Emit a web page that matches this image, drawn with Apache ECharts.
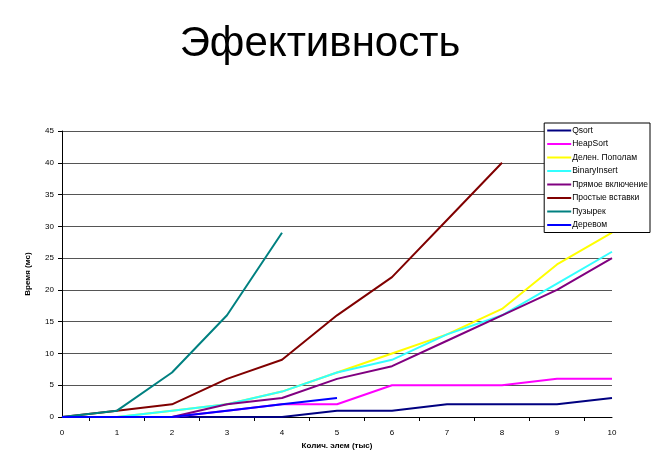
<!DOCTYPE html><html><head><meta charset="utf-8"><script src="https://cdn.jsdelivr.net/npm/echarts@6/dist/echarts.min.js"></script></head><body style="margin:0;background:#fff"><div id="c" style="width:666px;height:462px"></div><script>
const xs=[0,1,2,3,4,5,6,7,8,9,10];
const names=['Qsort','HeapSort','Делен. Пополам','BinaryInsert','Прямое включение','Простые вставки','Пузырек','Деревом'];
const colors=['#000080','#ff00ff','#ffff00','#33ffff','#800080','#800000','#008080','#0000ff'];
const qsort=[0,0,0,0,0,1,1,2,2,2,3];
const heap=[0,0,0,1,2,2,5,5,5,6,6];
const delen=[0,0,1,2,4,7,10,13,17,24,29];
const binary=[0,0,1,2,4,7,9,13,16,21,26];
const pryamoe=[0,0,0,2,3,6,8,12,16,20,25];
const prostye=[0,1,2,6,9,16,22,31,40];
const puzyrek=[0,1,7,16,29];
const derevom=[0,0,0,1,2,3];
const all=[qsort,heap,delen,binary,pryamoe,prostye,puzyrek,derevom];
const f='Liberation Sans';
echarts.init(document.getElementById('c')).setOption({
animation:false,
title:{text:'Эфективность',left:315,top:18,textAlign:'center',textStyle:{fontFamily:f,fontSize:42,fontWeight:'normal',color:'#000'}},
legend:{orient:'vertical',right:16,top:123,itemWidth:24,itemHeight:2,itemGap:4.5,icon:'rect',backgroundColor:'#fff',borderColor:'#000',borderWidth:1,padding:[3,2,3,3],textStyle:{fontFamily:f,fontSize:8.5,color:'#000',padding:[0,0,0,-4]},data:names},
grid:{left:62,right:54,top:131,bottom:45},
xAxis:{type:'value',min:0,max:10,interval:1,name:'Колич. элем (тыс)',nameLocation:'middle',nameGap:24,nameTextStyle:{fontFamily:f,fontSize:8,fontWeight:'bold',color:'#000'},axisLine:{lineStyle:{color:'#000'}},axisTick:{show:false},minorTick:{show:true,splitNumber:2,length:4,lineStyle:{color:'#000'}},splitLine:{show:false},axisLabel:{fontFamily:f,fontSize:8,color:'#000',margin:12}},
yAxis:{type:'value',min:0,max:45,interval:5,name:'Время (мс)',nameLocation:'middle',nameGap:30,nameTextStyle:{fontFamily:f,fontSize:8,fontWeight:'bold',color:'#000'},axisLine:{show:true,lineStyle:{color:'#000'}},axisTick:{show:true,length:4,lineStyle:{color:'#000'}},splitLine:{lineStyle:{color:'#555'}},axisLabel:{fontFamily:f,fontSize:8,color:'#000'}},
series:names.map((n,i)=>({name:n,type:'line',data:all[i].map((v,j)=>[xs[j],v]),showSymbol:false,color:colors[i],lineStyle:{width:2}}))
});
</script></body></html>
